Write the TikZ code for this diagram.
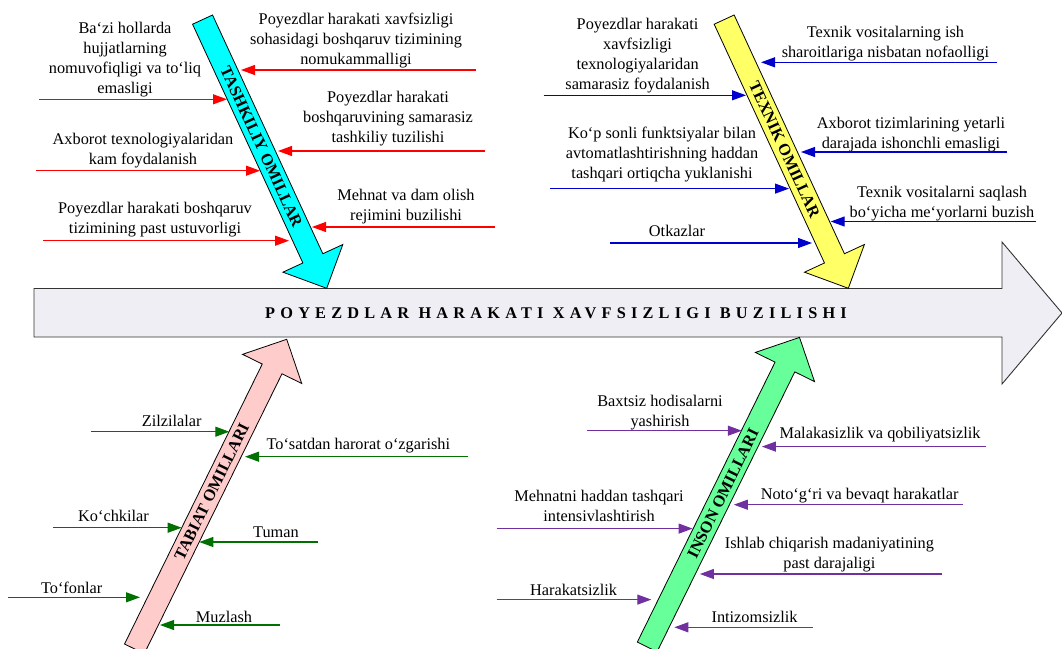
\documentclass[tikz,border=0pt]{standalone}
\usepackage{fontspec}
\setmainfont{Liberation Serif}
\newfontfamily\titlefont[LetterSpace=32]{Liberation Serif}
\usetikzlibrary{arrows.meta}

\definecolor{mainfill}{HTML}{EFEEF4}
\definecolor{tkred}{HTML}{FF0000}
\definecolor{txblue}{HTML}{0000CC}
\definecolor{tbgreen}{HTML}{007000}
\definecolor{inpurple}{HTML}{7030A0}
\definecolor{tkfill}{HTML}{00FFFF}
\definecolor{txfill}{HTML}{FFFF66}
\definecolor{tbfill}{HTML}{FFCCCC}
\definecolor{infill}{HTML}{66FF99}

\tikzset{
  lbl/.style={font=\fontsize{16.3}{20}\selectfont,align=center,anchor=base,inner sep=0pt},
  bonelbl/.style={font=\fontsize{16.3}{20}\selectfont\bfseries,inner sep=0pt},
  cause/.style={line width=1.1pt,-{Triangle[length=14pt,width=10pt]}},
  bone/.style={draw=black,line width=0.8pt},
}

% tip, angle, length, fill
\newcommand{\bonearrow}[4]{%
  \begin{scope}[shift={#1},rotate=#2]
    \draw[bone,fill=#4] (0,0) -- (-33,33) -- (-33,11) -- (-#3,11) -- (-#3,-11) -- (-33,-11) -- (-33,-33) -- cycle;
  \end{scope}}

\begin{document}
\begin{tikzpicture}[x=1pt,y=-1pt]
  \useasboundingbox (0,0) rectangle (1062,648);

  % main arrow
  \draw[draw=black!80,line width=0.9pt,fill=mainfill] (34,288.5) -- (1002,288.5) -- (1002,242) -- (1062,313)
    -- (1002,384) -- (1002,337) -- (34,337) -- cycle;
  \node[font=\fontsize{16.3}{20}\titlefont\bfseries,inner sep=0pt] (title) at (556,313) {POYEZDLAR HARAKATI XAVFSIZLIGI BUZILISHI};

  % bones
  \bonearrow{(326.7,288.3)}{-65.2}{296}{tkfill}
  \bonearrow{(848.3,288.3)}{-65.2}{296}{txfill}
  \bonearrow{(286.7,339.3)}{63.8}{345}{tbfill}
  \bonearrow{(799.5,337.4)}{63.8}{345}{infill}
  \node[bonelbl,rotate=-65.2] (tashkiliy) at (261.5,147) {TASHKILIY OMILLAR};
  \node[bonelbl,rotate=-65.2] (texnik) at (784.5,149.5) {TEXNIK OMILLAR};
  \node[bonelbl,rotate=63.8] (tabiat) at (211.7,491.5) {TABIAT OMILLARI};
  \node[bonelbl,rotate=63.8] (inson) at (723,493.5) {INSON OMILLARI};

  % tashkiliy omillar
  \node[lbl] (org1) at (125,93) {Ba‘zi hollarda\\hujjatlarning\\nomuvofiqligi va to‘liq\\emasligi};
  \coordinate (org1a) at (39,99.3); \coordinate (org1b) at (227,99.3);
  \draw[cause,tkred] (org1a) -- (org1b);
  \node[lbl] (org2) at (143,164) {Axborot texnologiyalaridan\\kam foydalanish};
  \coordinate (org2a) at (36,170.7); \coordinate (org2b) at (260,170.7);
  \draw[cause,tkred] (org2a) -- (org2b);
  \node[lbl] (org3) at (155,233.5) {Poyezdlar harakati boshqaruv\\tizimining past ustuvorligi};
  \coordinate (org3a) at (43,240.7); \coordinate (org3b) at (289,240.7);
  \draw[cause,tkred] (org3a) -- (org3b);
  \node[lbl] (org4) at (356,64) {Poyezdlar harakati xavfsizligi\\sohasidagi boshqaruv tizimining\\nomukammalligi};
  \coordinate (org4a) at (476,70); \coordinate (org4b) at (241,70);
  \draw[cause,tkred] (org4a) -- (org4b);
  \node[lbl] (org5) at (388,142) {Poyezdlar harakati\\boshqaruvining samarasiz\\tashkiliy tuzilishi};
  \coordinate (org5a) at (485,151); \coordinate (org5b) at (278,151);
  \draw[cause,tkred] (org5a) -- (org5b);
  \node[lbl] (org6) at (406,220) {Mehnat va dam olish\\rejimini buzilishi};
  \coordinate (org6a) at (495,227); \coordinate (org6b) at (312,227);
  \draw[cause,tkred] (org6a) -- (org6b);

  % texnik omillar
  \node[lbl] (tex1) at (637.6,89) {Poyezdlar harakati\\xavfsizligi\\texnologiyalaridan\\samarasiz foydalanish};
  \coordinate (tex1a) at (543.5,95.3); \coordinate (tex1b) at (746,95.3);
  \draw[cause,txblue] (tex1a) -- (tex1b);
  \node[lbl] (tex2) at (662,178.5) {Ko‘p sonli funktsiyalar bilan\\avtomatlashtirishning haddan\\tashqari ortiqcha yuklanishi};
  \coordinate (tex2a) at (550.4,188.6); \coordinate (tex2b) at (789,188.6);
  \draw[cause,txblue] (tex2a) -- (tex2b);
  \node[lbl] (tex3) at (677,236) {Otkazlar};
  \coordinate (tex3a) at (610,243); \coordinate (tex3b) at (812,243);
  \draw[cause,txblue] (tex3a) -- (tex3b);
  \node[lbl] (tex4) at (885.4,57) {Texnik vositalarning ish\\sharoitlariga nisbatan nofaolligi};
  \coordinate (tex4a) at (996.8,62.3); \coordinate (tex4b) at (761,62.3);
  \draw[cause,txblue] (tex4a) -- (tex4b);
  \node[lbl] (tex5) at (911,148) {Axborot tizimlarining yetarli\\darajada ishonchli emasligi};
  \coordinate (tex5a) at (1007,152); \coordinate (tex5b) at (801,152);
  \draw[cause,txblue] (tex5a) -- (tex5b);
  \node[lbl] (tex6) at (942,217) {Texnik vositalarni saqlash\\bo‘yicha me‘yorlarni buzish};
  \coordinate (tex6a) at (1036,221.5); \coordinate (tex6b) at (830.7,221.5);
  \draw[cause,txblue] (tex6a) -- (tex6b);

  % tabiat omillari
  \node[lbl] (tab1) at (171.7,426) {Zilzilalar};
  \coordinate (tab1a) at (90.7,431.7); \coordinate (tab1b) at (229.3,431.7);
  \draw[cause,tbgreen] (tab1a) -- (tab1b);
  \node[lbl] (tab2) at (358.3,449.3) {To‘satdan harorat o‘zgarishi};
  \coordinate (tab2a) at (468.3,456.7); \coordinate (tab2b) at (245,456.7);
  \draw[cause,tbgreen] (tab2a) -- (tab2b);
  \node[lbl] (tab3) at (113.5,521.7) {Ko‘chkilar};
  \coordinate (tab3a) at (52.7,527.7); \coordinate (tab3b) at (181.7,527.7);
  \draw[cause,tbgreen] (tab3a) -- (tab3b);
  \node[lbl] (tab4) at (276,537.3) {Tuman};
  \coordinate (tab4a) at (317.7,542); \coordinate (tab4b) at (199.3,542);
  \draw[cause,tbgreen] (tab4a) -- (tab4b);
  \node[lbl] (tab5) at (71.7,593.3) {To‘fonlar};
  \coordinate (tab5a) at (8.3,597.3); \coordinate (tab5b) at (140,597.3);
  \draw[cause,tbgreen] (tab5a) -- (tab5b);
  \node[lbl] (tab6) at (224,622.5) {Muzlash};
  \coordinate (tab6a) at (280,625); \coordinate (tab6b) at (160,625);
  \draw[cause,tbgreen] (tab6a) -- (tab6b);

  % inson omillari
  \node[lbl] (ins1) at (660,426.3) {Baxtsiz hodisalarni\\yashirish};
  \coordinate (ins1a) at (586.7,430.7); \coordinate (ins1b) at (741.8,430.7);
  \draw[cause,inpurple] (ins1a) -- (ins1b);
  \node[lbl] (ins2) at (880,438.8) {Malakasizlik va qobiliyatsizlik};
  \coordinate (ins2a) at (986.4,446.6); \coordinate (ins2b) at (761.9,446.6);
  \draw[cause,inpurple] (ins2a) -- (ins2b);
  \node[lbl] (ins3) at (599,521.9) {Mehnatni haddan tashqari\\intensivlashtirish};
  \coordinate (ins3a) at (496.6,528.6); \coordinate (ins3b) at (692.6,528.6);
  \draw[cause,inpurple] (ins3a) -- (ins3b);
  \node[lbl] (ins4) at (859.7,499) {Noto‘g‘ri va bevaqt harakatlar};
  \coordinate (ins4a) at (962.6,504.7); \coordinate (ins4b) at (733.8,504.7);
  \draw[cause,inpurple] (ins4a) -- (ins4b);
  \node[lbl] (ins5) at (829.4,568.2) {Ishlab chiqarish madaniyatining\\past darajaligi};
  \coordinate (ins5a) at (941.8,574); \coordinate (ins5b) at (699.9,574);
  \draw[cause,inpurple] (ins5a) -- (ins5b);
  \node[lbl] (ins6) at (573.6,595.2) {Harakatsizlik};
  \coordinate (ins6a) at (496.6,599.6); \coordinate (ins6b) at (651.3,599.6);
  \draw[cause,inpurple] (ins6a) -- (ins6b);
  \node[lbl] (ins7) at (754.6,622.5) {Intizomsizlik};
  \coordinate (ins7a) at (813,627.3); \coordinate (ins7b) at (674.3,627.3);
  \draw[cause,inpurple] (ins7a) -- (ins7b);
\end{tikzpicture}
\end{document}
